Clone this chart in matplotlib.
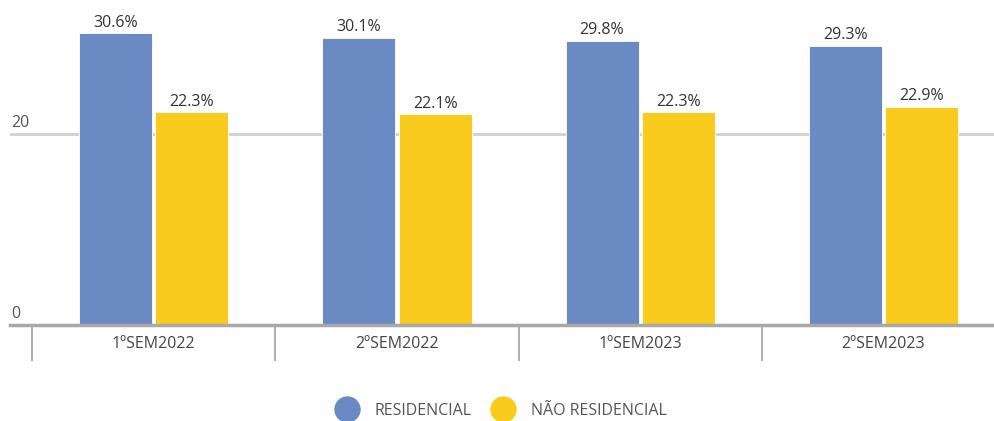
import numpy as np
import matplotlib.pyplot as plt
from matplotlib.lines import Line2D

categories = ["1ºSEM2022", "2ºSEM2022", "1ºSEM2023", "2ºSEM2023"]
residencial = [30.6, 30.1, 29.8, 29.3]
nao_residencial = [22.3, 22.1, 22.3, 22.9]
series_names = ["RESIDENCIAL", "NÃO RESIDENCIAL"]

BLUE = "#6a8ac4"
YELLOW = "#f9cb1c"

plt.rcParams.update({
    "font.family": ["Open Sans", "DejaVu Sans"],
    "font.size": 11.5,
})

fig = plt.figure(figsize=(9.95, 4.21), dpi=100)
ax = fig.add_axes([10 / 995, 96 / 421, 985 / 995, 325 / 421])

x = np.arange(len(categories))
w = 0.30
off = 0.157
b1 = ax.bar(x - off, residencial, w, color=BLUE, edgecolor="white", linewidth=0.6, zorder=3)
b2 = ax.bar(x + off, nao_residencial, w, color=YELLOW, edgecolor="white", linewidth=0.6, zorder=3)
for bars in (b1, b2):
    ax.bar_label(bars, fmt="%.1f%%", padding=2, color="#333333", fontsize=11.5)

# gridline and value labels for y
ax.axhline(20, color="#d0d0d0", lw=2, zorder=1)
ax.axhline(0, color="#a8a8a8", lw=2.5, zorder=4, clip_on=False)
for v in (0, 20):
    ax.text(-0.585, v + 0.35, str(v), color="#555555", fontsize=11.5, ha="left", va="bottom")

ax.set_yticks([])
ax.set_xticks(x)
ax.set_xticklabels(categories, color="#444444")
ax.tick_params(axis="x", which="major", length=0, pad=8)
ax.set_xticks(np.arange(len(categories) + 1) - 0.5, minor=True)
ax.tick_params(axis="x", which="minor", length=26, width=1.3, color="#a8a8a8", direction="out")
for s in ax.spines.values():
    s.set_visible(False)

# limits after ticks (set_ticks may widen them)
ax.set_xlim(-0.59, 3.458)
ax.set_ylim(0, 34.1)

handles = [Line2D([], [], marker="o", ls="none", markersize=19, color=BLUE, markeredgewidth=0),
           Line2D([], [], marker="o", ls="none", markersize=19, color=YELLOW, markeredgewidth=0)]
leg = fig.legend(handles, series_names, loc="center", bbox_to_anchor=(502 / 995, 1 - 411 / 421),
                 ncol=2, frameon=False, handletextpad=1.1, columnspacing=1.4, handlelength=1.2,
                 fontsize=11.5, labelcolor="#555555")

fig.savefig("out.png", dpi=100)
